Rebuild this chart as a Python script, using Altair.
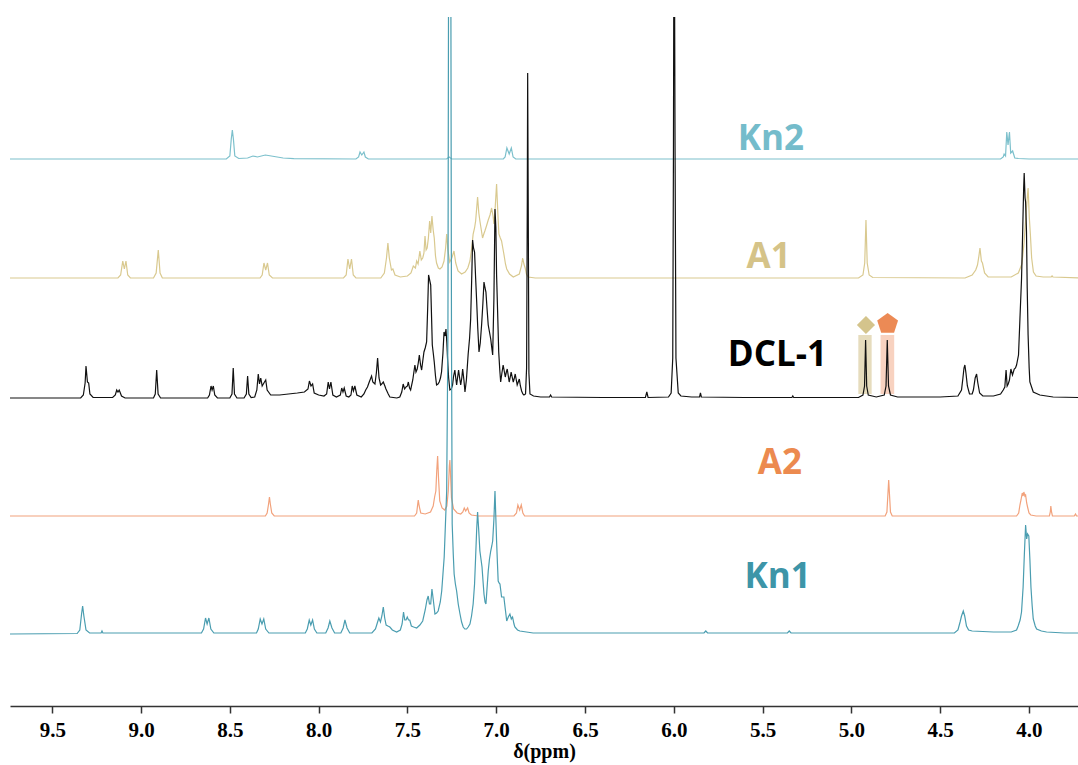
import altair as alt
import pandas as pd

# ---------------- data (ppm, intensity above each trace's baseline) ----------------
SERIES = ["Kn2", "A1", "DCL-1", "A2", "Kn1"]
BASELINES = [547, 428, 308, 190, 72]
LINE_COLORS = ["#7cc0cc", "#d9c98f", "#111111", "#f2a27c", "#4a9db0"]
LABEL_COLORS = ["#74bccb", "#d5c388", "#000000", "#ec8a4f", "#3d95a8"]
LABEL_PPM = [5.453, 5.466, 5.417, 5.403, 5.415]
LABEL_Y = [567, 449, 351, 243, 129]

KN2 = [(9.74,0),(8.52,0),(8.50,3),(8.492,20),(8.486,29),(8.480,20),(8.472,3),(8.45,0.5),(8.40,1),
       (8.37,3),(8.345,2),(8.30,4),(8.25,2.5),(8.20,1),(8.14,0.3),(7.79,0),(7.775,2),(7.767,7),
       (7.757,4),(7.745,7),(7.737,2),(7.72,0),(7.28,0),(7.265,2),(7.25,0),(6.96,0),(6.95,2),
       (6.94,11),(6.927,5),(6.915,11),(6.905,2),(6.89,0),(4.16,0),(4.145,2),(4.14,5),(4.132,3),
       (4.125,27),(4.118,14),(4.11,27),(4.103,6),(4.092,8),(4.08,1),(4.06,0.5),(4.0,0),(3.72,0)]

A1 = [(9.74,0),(9.13,0),(9.115,3),(9.103,17),(9.094,9),(9.085,17),(9.075,3),(9.06,0),
      (8.93,0),(8.915,5),(8.903,28),(8.893,5),(8.88,0),
      (8.33,0),(8.318,3),(8.308,15),(8.298,8),(8.288,15),(8.278,3),(8.26,0),
      (7.86,0),(7.845,3),(7.835,19),(7.825,9),(7.815,19),(7.805,3),(7.79,0),
      (7.65,0),(7.63,5),(7.618,20),(7.610,35),(7.602,20),(7.59,8),(7.582,9),(7.57,3),(7.54,1),
      (7.50,2),(7.48,5),(7.467,12),(7.455,10),(7.448,17),(7.44,14),(7.430,27),(7.422,18),
      (7.414,20),(7.407,25),(7.401,42),(7.395,28),(7.389,30),(7.382,40),(7.375,57),(7.369,45),
      (7.362,62),(7.355,48),(7.349,40),(7.342,22),(7.336,15),(7.326,10),(7.317,9),(7.305,11),
      (7.294,17),(7.285,30),(7.279,44),(7.272,28),(7.262,16),(7.25,20),(7.238,27),(7.228,15),
      (7.215,7),(7.195,4),(7.175,6),(7.16,10),(7.148,17),(7.138,30),(7.130,44),(7.122,50),
      (7.116,57),(7.110,70),(7.105,81),(7.098,65),(7.092,57),(7.084,48),(7.077,40),(7.070,44),
      (7.064,47),(7.055,52),(7.045,58),(7.035,63),(7.026,70),(7.018,62),(7.013,54),(7.006,70),
      (6.998,94),(6.991,65),(6.985,44),(6.977,40),(6.970,37),(6.963,30),(6.957,24),(6.948,14),
      (6.941,9),(6.925,4),(6.904,1),(6.87,4),(6.858,12),(6.851,20),(6.844,14),(6.837,10),
      (6.83,4),(6.82,1),(6.78,0),
      (4.96,0),(4.935,3),(4.925,15),(4.918,58),(4.911,15),(4.90,3),(4.88,0.5),
      (4.36,0),(4.32,3),(4.30,8),(4.29,13),(4.282,22),(4.276,30),(4.268,17),(4.262,15),(4.25,5),
      (4.23,1),(4.10,1),(4.06,5),(4.04,14),(4.028,35),(4.018,60),(4.010,80),(4.005,90),
      (3.998,60),(3.992,43),(3.985,20),(3.975,6),(3.96,2),(3.92,1),(3.875,1),(3.87,2),
      (3.865,1),(3.72,0)]

DCL1 = [(9.74,0),(9.34,0),(9.325,3),(9.315,15),(9.310,32),(9.302,16),(9.295,15),(9.288,4),(9.27,0.5),
        (9.16,0.5),(9.145,3),(9.137,8),(9.130,6),(9.123,8),(9.11,2),(9.09,0),
        (8.93,0),(8.92,4),(8.912,28),(8.904,4),(8.89,0),
        (8.625,0),(8.615,3),(8.606,12),(8.600,8),(8.593,12),(8.585,3),(8.57,0),
        (8.50,0),(8.488,4),(8.481,30),(8.474,4),(8.46,0),
        (8.42,0),(8.407,4),(8.400,22),(8.393,4),(8.38,0.5),
        (8.36,1),(8.348,8),(8.340,24),(8.333,14),(8.326,20),(8.318,12),(8.305,16),(8.298,18),
        (8.29,8),(8.27,3),(8.22,3),(8.17,4),(8.12,5),(8.08,6),(8.06,9),(8.052,17),(8.043,12),
        (8.034,14),(8.025,5),(8.00,3),(7.97,2),(7.955,4),(7.946,16),(7.939,9),(7.931,16),
        (7.92,3),(7.90,1),(7.878,3),(7.870,10),(7.863,6),(7.856,10),(7.845,2),(7.83,1),
        (7.818,3),(7.811,12),(7.804,7),(7.796,12),(7.785,3),(7.76,1),(7.745,4),(7.735,8),
        (7.725,11),(7.715,16),(7.702,22),(7.695,16),(7.683,14),(7.675,25),(7.668,40),(7.660,20),
        (7.651,13),(7.645,14),(7.636,16),(7.627,12),(7.621,9),(7.608,4),(7.599,1),(7.56,0),
        (7.543,1),(7.532,6),(7.524,14),(7.516,9),(7.508,11),(7.500,12),(7.495,16),(7.488,10),
        (7.482,8),(7.470,18),(7.458,33),(7.452,26),(7.445,29),(7.439,35),(7.433,43),(7.426,33),
        (7.420,28),(7.413,38),(7.407,46),(7.400,50),(7.392,56),(7.386,90),(7.381,123),
        (7.375,118),(7.369,113),(7.364,80),(7.360,53),(7.354,44),(7.349,36),(7.342,22),
        (7.336,13),(7.328,14),(7.321,16),(7.314,20),(7.308,26),(7.300,45),(7.294,66),
        (7.288,62),(7.283,69),(7.278,55),(7.274,39),(7.268,20),(7.261,8),(7.253,9),(7.246,13),
        (7.240,22),(7.233,28),(7.228,20),(7.223,13),(7.218,20),(7.212,28),(7.206,20),(7.200,13),
        (7.194,20),(7.189,29),(7.182,18),(7.176,6),(7.168,18),(7.158,44),(7.150,60),(7.144,79),
        (7.138,120),(7.133,158),(7.128,150),(7.122,146),(7.116,120),(7.110,96),(7.104,70),
        (7.097,46),(7.090,55),(7.082,74),(7.075,95),(7.069,116),(7.063,110),(7.058,106),
        (7.052,90),(7.045,73),(7.038,66),(7.031,59),(7.025,50),(7.020,43),(7.013,100),
        (7.007,189),(7.002,170),(6.998,123),(6.992,85),(6.986,46),(6.980,28),(6.975,16),
        (6.968,25),(6.961,33),(6.955,27),(6.949,21),(6.943,26),(6.938,29),(6.932,22),(6.927,16),
        (6.921,21),(6.916,26),(6.910,21),(6.904,16),(6.898,20),(6.893,24),(6.887,18),(6.882,13),
        (6.876,16),(6.870,19),(6.864,12),(6.857,7),(6.850,4),(6.844,3),(6.835,4),(6.829,30),
        (6.825,200),(6.823,325),(6.820,200),(6.816,25),(6.810,4),(6.79,2),(6.75,1),
        (6.70,1),(6.694,3),(6.688,1),(6.40,0.5),
        (6.16,0.5),(6.152,6),(6.145,0.5),
        (6.03,1),(6.015,5),(6.006,40),(6.002,250),(6.000,420),(5.996,420),(5.993,250),
        (5.988,40),(5.975,5),(5.96,2),(5.90,1),
        (5.855,1),(5.850,5),(5.845,1),(5.60,0.5),(5.335,0.5),(5.330,2),(5.325,0.5),(5.10,0.5),
        (4.96,0.5),(4.935,3),(4.926,12),(4.920,58),(4.914,12),(4.905,3),(4.86,1),(4.815,3),
        (4.805,12),(4.798,58),(4.791,12),(4.78,3),(4.74,1),(4.50,1),
        (4.40,2),(4.38,8),(4.372,20),(4.366,30),(4.361,33),(4.355,25),(4.347,12),(4.335,4),
        (4.32,4),(4.313,8),(4.303,20),(4.295,24),(4.288,15),(4.278,5),(4.26,2),(4.20,2),
        (4.16,4),(4.145,8),(4.136,11),(4.129,28),(4.123,12),(4.117,14),(4.110,18),(4.102,29),
        (4.093,23),(4.083,29),(4.076,30),(4.070,33),(4.059,43),(4.051,79),(4.042,119),
        (4.036,163),(4.030,210),(4.027,225),(4.022,200),(4.019,196),(4.014,166),(4.010,110),
        (4.005,63),(3.999,30),(3.995,16),(3.976,6),(3.939,3),(3.864,1),(3.72,0.5)]

A2 = [(9.74,0),(8.30,0),(8.290,3),(8.282,12),(8.277,19),(8.272,12),(8.264,3),(8.25,0),
      (7.46,0),(7.448,3),(7.442,12),(7.439,16),(7.434,10),(7.425,3),(7.40,2),(7.37,4),
      (7.355,10),(7.347,19),(7.340,25),(7.335,45),(7.330,60),(7.325,38),(7.318,15),(7.305,8),
      (7.290,6),(7.278,10),(7.270,25),(7.264,50),(7.261,56),(7.257,40),(7.252,18),(7.24,7),
      (7.22,3),(7.20,2),(7.188,4),(7.180,8),(7.172,5),(7.161,8),(7.153,3),(7.14,1),(7.10,0),
      (6.90,0),(6.886,3),(6.878,11),(6.868,6),(6.859,11),(6.85,3),(6.84,0),
      (4.81,0),(4.80,4),(4.795,20),(4.790,36),(4.785,20),(4.780,4),(4.77,0),
      (4.07,0),(4.058,3),(4.051,11),(4.045,16),(4.038,23),(4.033,20),(4.029,24),(4.023,20),
      (4.019,21),(4.013,13),(4.008,9),(4.000,3),(3.99,1),(3.96,0),
      (3.885,0),(3.880,4),(3.877,10),(3.873,4),(3.868,0),
      (3.745,0),(3.738,2),(3.732,0),(3.72,0)]

KN1 = [(9.74,0),(9.36,0.5),(9.345,4),(9.335,20),(9.329,28),(9.322,18),(9.31,4),(9.29,1),
       (9.225,1),(9.22,3),(9.215,1),
       (8.66,1),(8.648,5),(8.637,16),(8.628,10),(8.618,16),(8.607,5),(8.59,1),
       (8.35,1),(8.34,5),(8.329,15),(8.319,10),(8.309,15),(8.298,5),(8.28,1),
       (8.075,1),(8.064,5),(8.053,14),(8.044,9),(8.034,14),(8.024,5),(8.01,1),
       (7.96,1),(7.947,6),(7.937,13),(7.925,6),(7.91,1),
       (7.875,1),(7.862,6),(7.852,14),(7.840,6),(7.825,1),
       (7.70,1),(7.68,5),(7.668,12),(7.661,16),(7.652,12),(7.644,18),(7.636,27),(7.628,16),
       (7.620,9),(7.610,8),(7.599,7),(7.585,4),(7.561,2),(7.54,4),(7.530,10),(7.522,22),
       (7.515,14),(7.508,14),(7.501,17),(7.494,14),(7.487,14),(7.478,8),(7.465,7),(7.448,6),
       (7.430,9),(7.414,13),(7.400,24),(7.390,34),(7.383,38),(7.376,30),(7.369,30),(7.362,45),
       (7.355,35),(7.345,20),(7.336,21),(7.327,23),(7.315,32),(7.307,43),(7.300,60),(7.293,77),
       (7.286,110),(7.279,143),(7.272,300),(7.268,700),(7.256,700),(7.252,300),(7.248,110),
       (7.242,80),(7.237,60),(7.230,50),(7.223,43),(7.214,30),(7.204,20),(7.195,12),(7.186,7),
       (7.177,5),(7.167,5),(7.158,7),(7.148,10),(7.139,18),(7.130,30),(7.122,50),(7.116,77),
       (7.110,105),(7.105,122),(7.099,105),(7.092,83),(7.086,75),(7.080,67),(7.074,52),
       (7.069,40),(7.063,32),(7.058,30),(7.052,45),(7.045,63),(7.038,75),(7.031,83),(7.025,88),
       (7.020,93),(7.013,115),(7.007,143),(7.002,115),(6.998,93),(6.993,70),(6.989,53),
       (6.984,51),(6.979,50),(6.974,43),(6.970,37),(6.963,37),(6.957,37),(6.949,25),(6.941,13),
       (6.932,17),(6.923,20),(6.915,15),(6.908,17),(6.900,10),(6.895,7),(6.880,4),(6.867,3),
       (6.83,2),(6.792,1),(6.60,1),
       (5.83,1),(5.82,3),(5.81,1),(5.36,1),(5.35,3),(5.34,1),
       (4.42,1),(4.40,4),(4.388,12),(4.380,18),(4.370,23),(4.362,18),(4.352,8),(4.34,4),
       (4.32,3),(4.20,2),(4.10,2),(4.07,4),(4.061,8),(4.050,14),(4.042,22),(4.033,47),
       (4.026,80),(4.019,109),(4.013,95),(4.008,100),(4.001,98),(3.995,75),(3.989,47),
       (3.982,28),(3.976,15),(3.965,8),(3.957,5),(3.93,3),(3.901,2),(3.80,1),(3.72,1)]

TRACES = [KN2, A1, DCL1, A2, KN1]

# highlight bands and markers on DCL-1 (ppm ranges, y values above axis)
BAND_PPM_LEFT = [4.961, 4.836]
BAND_PPM_RIGHT = [4.886, 4.759]
BAND_Y_LOW = [312, 312]
BAND_Y_HIGH = [371, 371]
BAND_COLORS = ["#e6dcbd", "#f8d2c0"]
MARK_PPM = [4.918, 4.796]
MARK_Y = [381, 382]
MARK_KIND = ["A1", "A2"]
MARK_COLORS = ["#d4c48c", "#ec8a55"]
MARK_SIZES = [330, 480]

TICKS = [9.5, 9.0, 8.5, 8.0, 7.5, 7.0, 6.5, 6.0, 5.5, 5.0, 4.5, 4.0]
X_MIN, X_MAX = 3.724, 9.738
PENTAGON = "M0,-1L0.951,-0.309L0.588,0.809L-0.588,0.809L-0.951,-0.309Z"

# ---------------- tables ----------------
rows = []
for name, base, pts in zip(SERIES, BASELINES, TRACES):
    for i, (p, h) in enumerate(pts):
        rows.append({"series": name, "ppm": p, "y": base + h, "i": i})
spec = pd.DataFrame(rows)

labels = pd.DataFrame({"label": SERIES, "ppm": LABEL_PPM, "y": LABEL_Y, "color": LABEL_COLORS})
bands = pd.DataFrame({"x1": BAND_PPM_LEFT, "x2": BAND_PPM_RIGHT, "y1": BAND_Y_LOW,
                      "y2": BAND_Y_HIGH, "color": BAND_COLORS})
marks = pd.DataFrame({"ppm": MARK_PPM, "y": MARK_Y, "kind": MARK_KIND,
                      "color": MARK_COLORS, "size": MARK_SIZES})

xscale = alt.Scale(domain=[X_MIN, X_MAX], reverse=True, nice=False, zero=False)
yscale = alt.Scale(domain=[0, 689], nice=False, zero=False)

xaxis = alt.Axis(values=TICKS, format=".1f", title="δ(ppm)", grid=False,
                 labelFont="Liberation Serif", labelFontWeight="bold", labelFontSize=21,
                 labelColor="black", labelPadding=6, labelFlush=False,
                 titleFont="Liberation Serif", titleFontWeight="bold", titleFontSize=20,
                 titleColor="black", titlePadding=1,
                 domainColor="#333333", domainWidth=1.5, tickColor="#333333",
                 tickWidth=1.5, tickSize=7)

band_layer = alt.Chart(bands).mark_rect().encode(
    x=alt.X("x1:Q", scale=xscale, axis=xaxis),
    x2="x2:Q",
    y=alt.Y("y1:Q", scale=yscale, axis=None),
    y2="y2:Q",
    color=alt.Color("color:N", scale=None),
)

line_layer = alt.Chart(spec).mark_line(clip=True, strokeWidth=1.2).encode(
    x=alt.X("ppm:Q", scale=xscale, axis=xaxis),
    y=alt.Y("y:Q", scale=yscale, axis=None),
    color=alt.Color("series:N", scale=alt.Scale(domain=SERIES, range=LINE_COLORS), legend=None),
    detail="series:N",
    order=alt.Order("i:Q"),
)

mark_layer = alt.Chart(marks).mark_point(filled=True, opacity=1).encode(
    x=alt.X("ppm:Q", scale=xscale),
    y=alt.Y("y:Q", scale=yscale),
    shape=alt.Shape("kind:N", scale=alt.Scale(domain=["A1", "A2"], range=["diamond", PENTAGON]),
                    legend=None),
    color=alt.Color("color:N", scale=None),
    size=alt.Size("size:Q", scale=None),
)

text_layer = alt.Chart(labels).mark_text(font="Open Sans", fontWeight="bold", fontSize=35,
                                          align="center", baseline="middle").encode(
    x=alt.X("ppm:Q", scale=xscale),
    y=alt.Y("y:Q", scale=yscale),
    text="label:N",
    color=alt.Color("color:N", scale=None),
)

chart = alt.layer(band_layer, line_layer, mark_layer, text_layer).resolve_scale(
    color="independent"
).properties(
    width=1068, height=689,
    padding={"left": 10, "top": 17, "right": 0, "bottom": 59},
    autosize=alt.AutoSizeParams(type="none"),
    background="white",
).configure_view(stroke=None)

chart.save("out.html", embed_options={"renderer": "svg", "actions": False})
